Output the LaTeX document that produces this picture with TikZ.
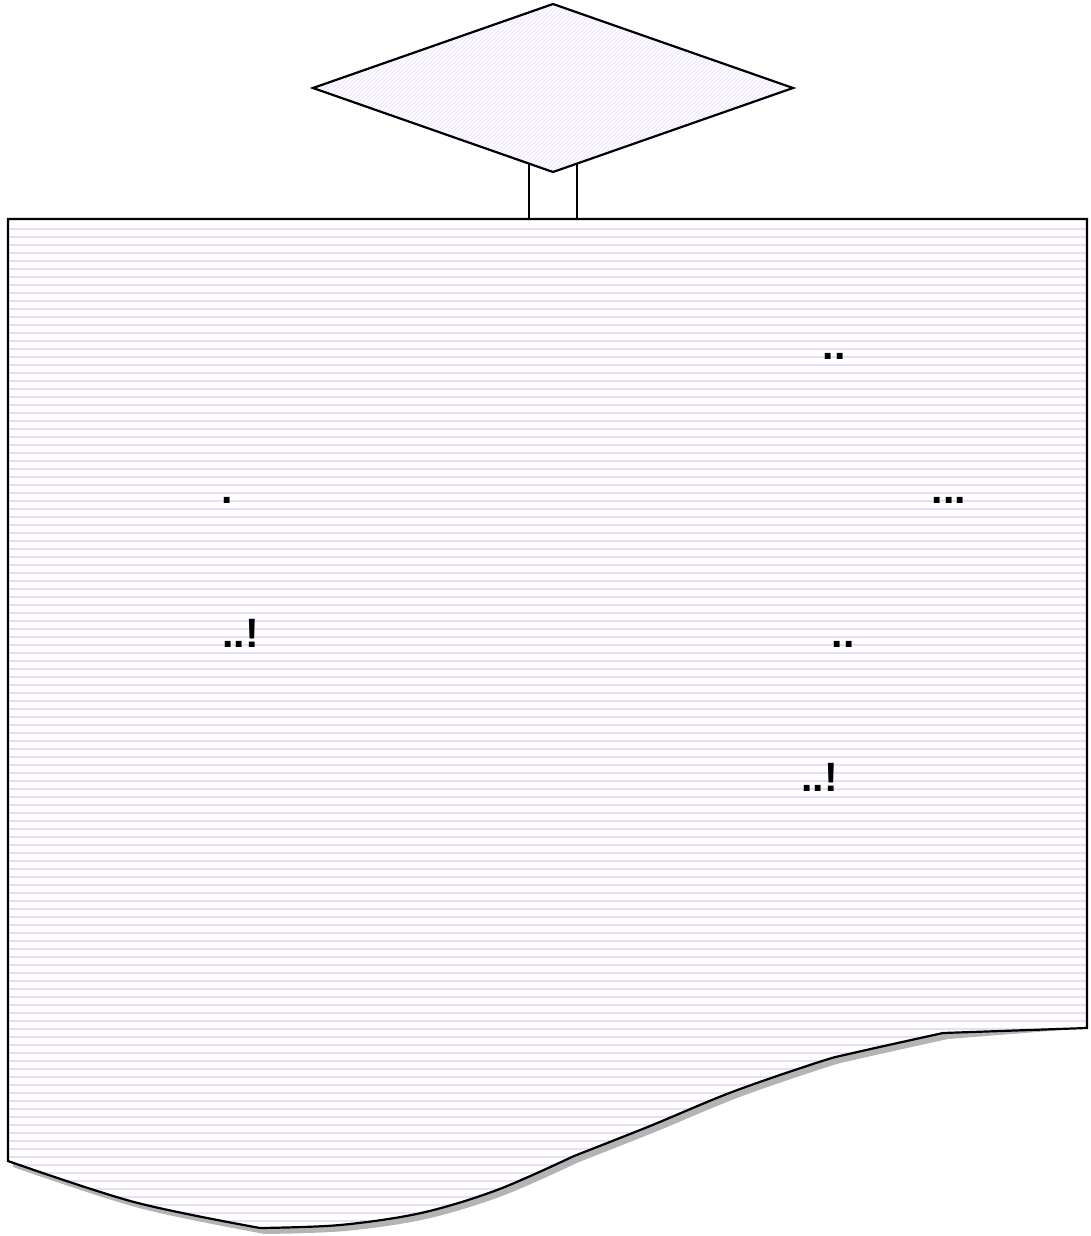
\documentclass[tikz,border=0pt]{standalone}
\usepackage{fontspec}
\setmainfont{Liberation Sans}
\definecolor{hlinecol}{RGB}{234,220,253}
\definecolor{dlinecol}{RGB}{236,226,255}
\definecolor{shadowcol}{RGB}{180,180,180}
\begin{document}
\begin{tikzpicture}[x=1pt,y=-1pt,
  outline/.style={draw=black,line width=2.2pt,line join=miter},
  hline/.style={draw=hlinecol,line width=1.2pt},
  dline/.style={draw=dlinecol,line width=0.9pt},
  lbl/.style={anchor=base,inner sep=0pt,font=\fontsize{41}{41}\selectfont\bfseries}]
\useasboundingbox (0,0) rectangle (1090,1236);
% named points
\coordinate (dT) at (553,4);
\coordinate (dL) at (313,88);
\coordinate (dR) at (793,88);
\coordinate (dB) at (553,172);
\coordinate (sL1) at (529,163.6);
\coordinate (sR1) at (577,163.6);
\coordinate (sL2) at (529,219);
\coordinate (sR2) at (577,219);
\coordinate (rTL) at (8,219);
\coordinate (rTR) at (1087,219);
\coordinate (rBR) at (1087,1028);
\coordinate (rBL) at (8,1161);
\def\docpath{(rTL) -- (rTR) -- (rBR) -- (943,1033)
  -- plot[smooth,tension=0.55] coordinates {(943,1033)(853,1053)(819,1062)(732,1092)(650,1126)(574,1156)}
  -- plot[smooth,tension=0.55] coordinates {(574,1156)(497,1190)(421,1213)(340,1225)(260,1228)}
  -- plot[smooth,tension=0.55] coordinates {(260,1228)(134,1202)(8,1161)} -- cycle}
% shadow
\fill[shadowcol,shift={(5pt,-6pt)}] \docpath;
% document fill
\fill[white] \docpath;
\begin{scope}
  \clip \docpath;
  \foreach \yy in {229,237,...,1236} \draw[hline] (0,\yy) -- (1090,\yy);
\end{scope}
\draw[outline] \docpath;
% stem
\draw[outline] (sL1) -- (sL2);
\draw[outline] (sR1) -- (sR2);
% diamond
\fill[white] (dT) -- (dR) -- (dB) -- (dL) -- cycle;
\begin{scope}
  \clip (dT) -- (dR) -- (dB) -- (dL) -- cycle;
  \foreach \xx in {113,117,...,800} \draw[dline] (\xx,176) -- ({\xx+180},-4);
\end{scope}
\draw[outline] (dT) -- (dR) -- (dB) -- (dL) -- cycle;
% texts
\node[lbl] (t1) at (834,359) {..};
\node[lbl] (t2) at (227,503) {.};
\node[lbl] (t3) at (949,503) {...};
\node[lbl] (t4) at (240.5,647) {..!};
\node[lbl] (t5) at (843,647) {..};
\node[lbl] (t6) at (819.5,791) {..!};
\end{tikzpicture}
\end{document}
